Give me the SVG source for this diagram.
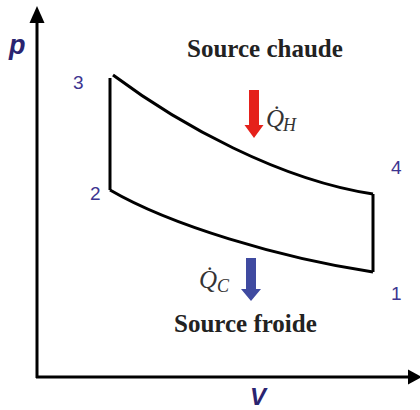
<svg xmlns="http://www.w3.org/2000/svg" width="420" height="410" viewBox="0 0 420 410">
<style>
.ax{stroke:#000;stroke-width:3;fill:none}
.cy{stroke:#000;stroke-width:3;fill:none;stroke-linejoin:miter}
.axl{font-family:"Liberation Sans",Arial,sans-serif;font-weight:bold;font-style:italic;fill:#2a2470}
.num{font-family:"Liberation Sans",Arial,sans-serif;font-size:19px;fill:#3d3590}
.src{font-family:"Liberation Serif","Times New Roman",serif;font-weight:bold;font-size:25px;fill:#222}
.q{font-family:"Liberation Serif","Times New Roman",serif;font-style:italic;fill:#333}
</style>
<rect width="420" height="410" fill="#fff"/>
<g id="axes">
<line class="ax" x1="37" y1="20" x2="37" y2="378"/>
<polygon points="37,6 29.5,23 44.5,23" fill="#000"/>
<line class="ax" x1="36" y1="377" x2="410" y2="377"/>
<polygon points="422,377 408,369.5 408,384.5" fill="#000"/>
<text class="axl" x="9" y="54" font-size="27">p</text>
<text class="axl" x="250" y="405" font-size="24">V</text>
</g>
<g id="connectors">
<path class="cy" d="M113,75 C180,125 280,180 373,194"/>
<path class="cy" d="M110,190 C170,225 280,258 373,272"/>
<path class="cy" d="M110,78 L110,190"/>
<path class="cy" d="M373,194 L373,272"/>
</g>
<g id="n3"><text class="num" x="73" y="89">3</text></g>
<g id="n2"><text class="num" x="90" y="200">2</text></g>
<g id="n4"><text class="num" x="391" y="174">4</text></g>
<g id="n1"><text class="num" x="391" y="300">1</text></g>
<g id="hot">
<text class="src" x="187" y="57">Source chaude</text>
<path d="M249,90 H259 V125 H263.5 L254,138 L244.5,125 H249 Z" fill="#e5211b"/>
<text class="q" x="266" y="127" font-size="25">Q̇</text>
<text class="q" x="283" y="131" font-size="18">H</text>
</g>
<g id="cold">
<text class="src" x="174" y="332">Source froide</text>
<path d="M246,258 H256 V289 H261 L251,301 L241,289 H246 Z" fill="#3f4aa0"/>
<text class="q" x="199" y="288" font-size="25">Q̇</text>
<text class="q" x="217" y="292" font-size="18">C</text>
</g>
</svg>
